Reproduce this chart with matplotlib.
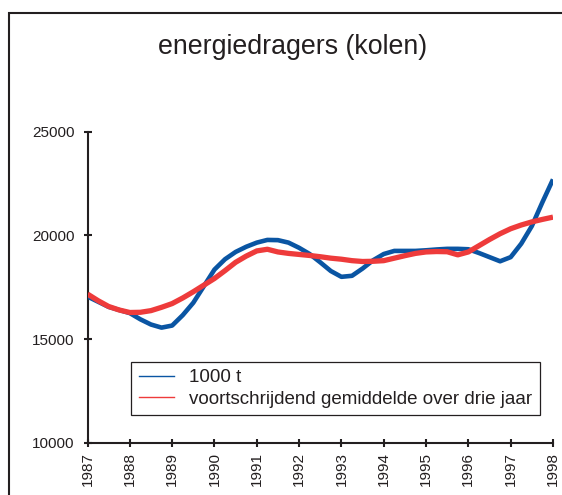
import matplotlib
matplotlib.use("Agg")
import matplotlib.pyplot as plt
from matplotlib.lines import Line2D
from matplotlib.patches import Rectangle

plt.rcParams["font.family"] = ["Liberation Sans", "DejaVu Sans"]

# quarterly readings, 1987.00 .. 1998.00
years = [1987 + k / 4 for k in range(45)]
kolen = [17050, 16800, 16550, 16400, 16250, 15950, 15700, 15550,
         15650, 16150, 16750, 17550, 18350, 18850, 19200, 19450,
         19650, 19780, 19770, 19650, 19400, 19100, 18700, 18280,
         18000, 18050, 18400, 18800, 19100, 19250, 19250, 19250,
         19280, 19320, 19350, 19350, 19330, 19150, 18950, 18750,
         18950, 19600, 20450, 21600, 22700]
gemiddeld = [17170, 16850, 16570, 16400, 16280, 16290, 16370, 16530,
             16710, 16980, 17280, 17600, 17920, 18300, 18700, 19000,
             19250, 19330, 19200, 19130, 19080, 19030, 18970, 18900,
             18850, 18780, 18740, 18750, 18780, 18900, 19020, 19130,
             19200, 19220, 19210, 19060, 19200, 19500, 19800, 20080,
             20320, 20500, 20650, 20770, 20880]
xticks = list(range(1987, 1999))
yticks = [10000, 15000, 20000, 25000]

blue = "#0a55a3"
red = "#ee3b3b"
ink = "#231f20"

fig = plt.figure(figsize=(5.62, 4.95), dpi=100)
ax = fig.add_axes([87.5 / 562, 1 - 442.7 / 495, 465.5 / 562, 311 / 495])

ax.plot(years, kolen, color=blue, lw=3.3, solid_capstyle="butt", zorder=3)
ax.plot(years, gemiddeld, color=red, lw=3.8, solid_capstyle="butt", zorder=4)

ax.set_xlim(1987, 1998)
ax.set_ylim(10000, 25000)
ax.set_xticks(xticks)
ax.set_xticklabels([str(y) for y in xticks], rotation=90)
ax.set_yticks(yticks)

for s in ["top", "right"]:
    ax.spines[s].set_visible(False)
for s in ["left", "bottom"]:
    ax.spines[s].set_linewidth(1.5)
    ax.spines[s].set_color(ink)
ax.tick_params(axis="both", direction="inout", length=6, width=1.5,
               color=ink, labelsize=11, labelcolor=ink)
ax.tick_params(axis="y", pad=6.5)
ax.tick_params(axis="x", pad=4)

handles = [Line2D([], [], color=blue, lw=1.0),
           Line2D([], [], color=red, lw=1.0)]
leg = ax.legend(handles, ["1000 t", "voortschrijdend gemiddelde over drie jaar"],
                loc="lower right", bbox_to_anchor=(0.972, 0.089),
                borderaxespad=0, fontsize=13.5, fancybox=False,
                edgecolor=ink, framealpha=1, handlelength=1.9,
                handletextpad=0.8, labelspacing=0.22, borderpad=0.4)
leg.get_frame().set_linewidth(0.9)
for t in leg.get_texts():
    t.set_color(ink)

fig.text(293 / 562, 1 - 47 / 495, "energiedragers (kolen)", fontsize=19.3,
         color=ink, ha="center", va="center")

fig.patches.append(Rectangle((8.5 / 562, -0.2), 2, 1.2 - 12.5 / 495,
                             transform=fig.transFigure, fill=False,
                             lw=1.5, edgecolor=ink, clip_on=False))

fig.savefig("out.png", dpi=100)
